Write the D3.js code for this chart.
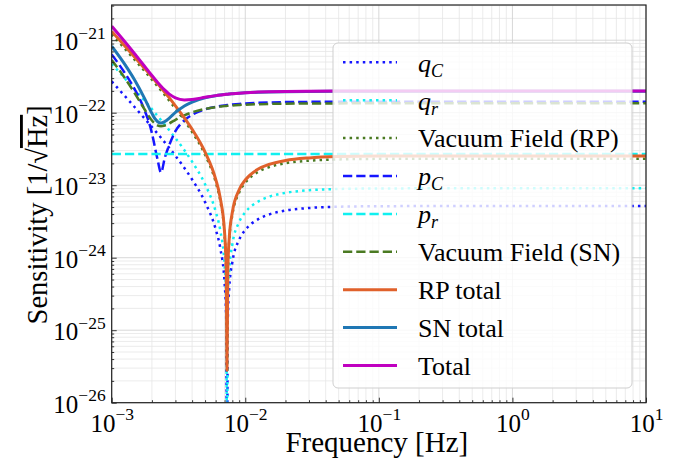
<!DOCTYPE html>
<html><head><meta charset="utf-8">
<script src="https://cdn.jsdelivr.net/npm/d3@7"></script>
<style>
body{margin:0;background:#fff}
svg text{font-family:"Liberation Serif","Times New Roman",serif;fill:#000}
</style>
</head><body>
<svg id="c" width="688" height="464" font-family="Liberation Serif"></svg>
<script>
// ---- data ----
const freq = [0.001,0.00125,0.0015,0.00175,0.002,0.0021,0.0022,0.00234,0.0025,0.0027,0.003,0.0035,0.004,0.005,0.006,0.0065,0.007,0.0072,0.0073,0.0074,0.0076,0.008,0.009,0.01,0.0125,0.015,0.02,0.03,0.05,0.1,0.3,1,10];
const qC = [2.70e-22,1.71e-22,1.17e-22,8.46e-23,6.36e-23,5.72e-23,5.17e-23,4.51e-23,3.88e-23,3.26e-23,2.54e-23,1.73e-23,1.20e-23,5.84e-24,2.48e-24,1.35e-24,4.5e-25,1.44e-25,1e-27,1.38e-25,3.99e-25,8.63e-25,1.77e-24,2.41e-24,3.40e-24,3.94e-24,4.47e-24,4.85e-24,5.05e-24,5.13e-24,5.16e-24,5.16e-24,5.16e-24];
const qr = [4.74e-22,3.00e-22,2.06e-22,1.49e-22,1.12e-22,1.00e-22,9.07e-23,7.91e-23,6.82e-23,5.72e-23,4.46e-23,3.04e-23,2.11e-23,1.03e-23,4.35e-24,2.37e-24,7.9e-25,2.5e-25,3e-27,2.4e-25,7.0e-25,1.52e-24,3.10e-24,4.23e-24,5.97e-24,6.91e-24,7.85e-24,8.52e-24,8.87e-24,9.01e-24,9.06e-24,9.06e-24,9.06e-24];
const vacRP = [1.21e-21,7.68e-22,5.26e-22,3.81e-22,2.86e-22,2.57e-22,2.32e-22,2.03e-22,1.75e-22,1.46e-22,1.14e-22,7.77e-23,5.41e-23,2.63e-23,1.11e-23,6.06e-24,2.03e-24,6.5e-25,2.6e-26,6.2e-25,1.80e-24,3.88e-24,7.94e-24,1.08e-23,1.53e-23,1.77e-23,2.01e-23,2.18e-23,2.27e-23,2.31e-23,2.32e-23,2.32e-23,2.32e-23];
const pC = [6.36e-22,3.56e-22,2.04e-22,1.12e-22,5.24e-23,3.43e-23,2.3e-23,1.5e-23,2.4e-23,3.6e-23,5.56e-23,7.85e-23,9.34e-23,1.109e-22,1.204e-22,1.236e-22,1.261e-22,1.270e-22,1.274e-22,1.278e-22,1.285e-22,1.298e-22,1.324e-22,1.342e-22,1.370e-22,1.385e-22,1.401e-22,1.411e-22,1.417e-22,1.419e-22,1.42e-22,1.42e-22,1.42e-22];
const prFreq = [0.001, 10];
const pr = [2.69e-23, 2.69e-23];
const vacSN = [5.32e-22,3.03e-22,1.81e-22,1.135e-22,7.82e-23,7.10e-23,6.68e-23,6.5e-23,6.66e-23,7.13e-23,7.97e-23,9.21e-23,1.012e-22,1.128e-22,1.193e-22,1.216e-22,1.233e-22,1.240e-22,1.243e-22,1.245e-22,1.250e-22,1.260e-22,1.278e-22,1.291e-22,1.311e-22,1.322e-22,1.333e-22,1.341e-22,1.345e-22,1.347e-22,1.347e-22,1.347e-22,1.347e-22];
const rpTotal = [1.323e-21,8.38e-22,5.74e-22,4.15e-22,3.12e-22,2.80e-22,2.53e-22,2.21e-22,1.90e-22,1.60e-22,1.245e-22,8.48e-23,5.90e-23,2.86e-23,1.215e-23,6.61e-24,2.22e-24,7.1e-25,2.8e-26,6.8e-25,1.96e-24,4.23e-24,8.66e-24,1.18e-23,1.67e-23,1.93e-23,2.19e-23,2.38e-23,2.48e-23,2.52e-23,2.53e-23,2.53e-23,2.53e-23];
const snTotal = [8.29e-22,4.68e-22,2.74e-22,1.616e-22,9.79e-23,8.33e-23,7.56e-23,7.19e-23,7.57e-23,8.43e-23,1.008e-22,1.240e-22,1.403e-22,1.605e-22,1.716e-22,1.754e-22,1.784e-22,1.795e-22,1.800e-22,1.804e-22,1.813e-22,1.829e-22,1.860e-22,1.882e-22,1.915e-22,1.934e-22,1.953e-22,1.965e-22,1.972e-22,1.975e-22,1.976e-22,1.976e-22,1.976e-22];
const total = [1.561e-21,9.59e-22,6.36e-22,4.45e-22,3.27e-22,2.93e-22,2.64e-22,2.32e-22,2.05e-22,1.805e-22,1.602e-22,1.502e-22,1.522e-22,1.630e-22,1.721e-22,1.756e-22,1.784e-22,1.795e-22,1.800e-22,1.804e-22,1.813e-22,1.829e-22,1.862e-22,1.885e-22,1.923e-22,1.943e-22,1.965e-22,1.979e-22,1.988e-22,1.991e-22,1.992e-22,1.992e-22,1.992e-22];

const xTickExps = [-3,-2,-1,0,1];
const yTickExps = [-26,-25,-24,-23,-22,-21];

const seriesNames = ["q_C","q_r","Vacuum Field (RP)","p_C","p_r","Vacuum Field (SN)","RP total","SN total","Total"];

// ---- layout ----
const FONT = "'Liberation Serif','Times New Roman',serif";
const L=111.7, R=646, T=5, B=402.7;
const svg = d3.select("#c");
const x = d3.scaleLog().domain([1e-3,10]).range([L,R]);
const y = d3.scaleLog().domain([1e-26,3.06e-21]).range([B,T]);

const xMajor = xTickExps.map(e=>Math.pow(10,e));
const yMajor = yTickExps.map(e=>Math.pow(10,e));
const xMinor = [], yMinor = [];
for (let e=-3;e<1;e++) for (let m=2;m<10;m++) xMinor.push(m*Math.pow(10,e));
for (let e=-26;e<=-21;e++) for (let m=2;m<10;m++){const v=m*Math.pow(10,e); if (v<=3.06e-21) yMinor.push(v);}

// grid
const grid = svg.append("g");
grid.selectAll(".vm").data(xMinor).join("line")
  .attr("x1",d=>x(d)).attr("x2",d=>x(d)).attr("y1",T).attr("y2",B)
  .attr("stroke","#e6e6e6").attr("stroke-width",0.8);
grid.selectAll(".hm").data(yMinor).join("line")
  .attr("y1",d=>y(d)).attr("y2",d=>y(d)).attr("x1",L).attr("x2",R)
  .attr("stroke","#e6e6e6").attr("stroke-width",0.8);
grid.selectAll(".vM").data(xMajor).join("line")
  .attr("x1",d=>x(d)).attr("x2",d=>x(d)).attr("y1",T).attr("y2",B)
  .attr("stroke","#d4d4d4").attr("stroke-width",0.9);
grid.selectAll(".hM").data(yMajor).join("line")
  .attr("y1",d=>y(d)).attr("y2",d=>y(d)).attr("x1",L).attr("x2",R)
  .attr("stroke","#d4d4d4").attr("stroke-width",0.9);

// clip
svg.append("clipPath").attr("id","clip").append("rect")
  .attr("x",L).attr("y",T).attr("width",R-L).attr("height",B-T);

const styles = [
  {name:seriesNames[0], xs:freq, ys:qC, color:"#1515ff", dash:"2.5,4.1", w:2.5},
  {name:seriesNames[1], xs:freq, ys:qr, color:"#10f0f0", dash:"2.5,4.1", w:2.5},
  {name:seriesNames[2], xs:freq, ys:vacRP, color:"#4a7a22", dash:"2.5,4.1", w:2.5},
  {name:seriesNames[3], xs:freq, ys:pC, color:"#1515ff", dash:"9.25,4", w:2.5},
  {name:seriesNames[4], xs:prFreq, ys:pr, color:"#10f0f0", dash:"9.25,4", w:2.5},
  {name:seriesNames[5], xs:freq, ys:vacSN, color:"#4a7a22", dash:"9.25,4", w:2.5},
  {name:seriesNames[6], xs:freq, ys:rpTotal, color:"#e0612b", dash:null, w:3},
  {name:seriesNames[7], xs:freq, ys:snTotal, color:"#1f77b4", dash:null, w:3},
  {name:seriesNames[8], xs:freq, ys:total, color:"#c000c0", dash:null, w:3}
];

const line = d3.line().x(d=>x(d[0])).y(d=>y(d[1])).curve(d3.curveMonotoneX);
const plot = svg.append("g").attr("clip-path","url(#clip)");
styles.forEach(s=>{
  plot.append("path")
    .attr("d", line(s.xs.map((f,i)=>[f,s.ys[i]])))
    .attr("fill","none").attr("stroke",s.color).attr("stroke-width",s.w)
    .attr("stroke-dasharray",s.dash)
    .attr("stroke-linejoin","round");
});

// axes (inward ticks)
const gx = svg.append("g").attr("transform",`translate(0,${B})`);
gx.call(d3.axisBottom(x).tickValues(xMajor).tickSize(-5).tickFormat(""));
const gxm = svg.append("g").attr("transform",`translate(0,${B})`);
gxm.call(d3.axisBottom(x).tickValues(xMinor).tickSize(-2.5).tickFormat(""));
const gy = svg.append("g").attr("transform",`translate(${L},0)`);
gy.call(d3.axisLeft(y).tickValues(yMajor).tickSize(-5).tickFormat(""));
const gym = svg.append("g").attr("transform",`translate(${L},0)`);
gym.call(d3.axisLeft(y).tickValues(yMinor).tickSize(-2.5).tickFormat(""));
[gx,gxm,gy,gym].forEach(g=>{g.attr("font-family",FONT); g.select(".domain").remove(); g.selectAll(".tick line").attr("stroke","#222").attr("stroke-width",0.9);});

// frame
svg.append("rect").attr("x",L).attr("y",T).attr("width",R-L).attr("height",B-T)
  .attr("fill","none").attr("stroke","#222").attr("stroke-width",1.2);

// tick labels
gx.selectAll(".tick").each(function(d,i){
  const t = d3.select(this).append("text").attr("y",29).attr("text-anchor","middle")
    .attr("font-family",FONT).attr("font-size",25).attr("fill","#000");
  t.append("tspan").text("10");
  t.append("tspan").attr("dy",-11.5).attr("font-size",17.5).text((xTickExps[i]<0?"\u2212":"")+Math.abs(xTickExps[i]));
});
gy.selectAll(".tick").each(function(d,i){
  const t = d3.select(this).append("text").attr("x",-6).attr("y",9.5).attr("text-anchor","end")
    .attr("font-family",FONT).attr("font-size",25).attr("fill","#000");
  t.append("tspan").text("10");
  t.append("tspan").attr("dy",-11.5).attr("font-size",17.5).text("\u2212"+Math.abs(yTickExps[i]));
});

// axis labels
svg.append("text").attr("x",(L+R)/2 - 2).attr("y",452).attr("text-anchor","middle")
  .attr("font-family",FONT).attr("font-size",29).text("Frequency [Hz]");
const yl = svg.append("text").attr("transform",`translate(47,${(T+B)/2 + 11}) rotate(-90)`)
  .attr("text-anchor","middle").attr("font-family",FONT).attr("font-size",28.5);
yl.append("tspan").text("Sensitivity [1/\u221A");
yl.append("tspan").attr("style","text-decoration:overline").text("Hz");
yl.append("tspan").text("]");

// legend
const lg = svg.append("g");
lg.append("rect").attr("x",333).attr("y",43).attr("width",299).attr("height",345).attr("rx",5)
  .attr("fill","#fff").attr("fill-opacity",0.8).attr("stroke","#cfcfcf").attr("stroke-width",1);
const rowY0 = 62.3, rowDy = 37.9;
styles.forEach((s,i)=>{
  const yy = rowY0 + i*rowDy;
  lg.append("line").attr("x1",343).attr("x2",397).attr("y1",yy).attr("y2",yy)
    .attr("stroke",s.color).attr("stroke-width",s.w).attr("stroke-dasharray",s.dash);
  const t = lg.append("text").attr("x",418).attr("y",yy+9.3).attr("font-family",FONT).attr("font-size",26);
  if (s.name.includes("_")) {
    const [a,b] = s.name.split("_");
    t.append("tspan").attr("font-style","italic").text(a);
    t.append("tspan").attr("font-style","italic").attr("font-size",18).attr("dy",5).text(b);
  } else t.text(s.name);
});
</script>
</body></html>
